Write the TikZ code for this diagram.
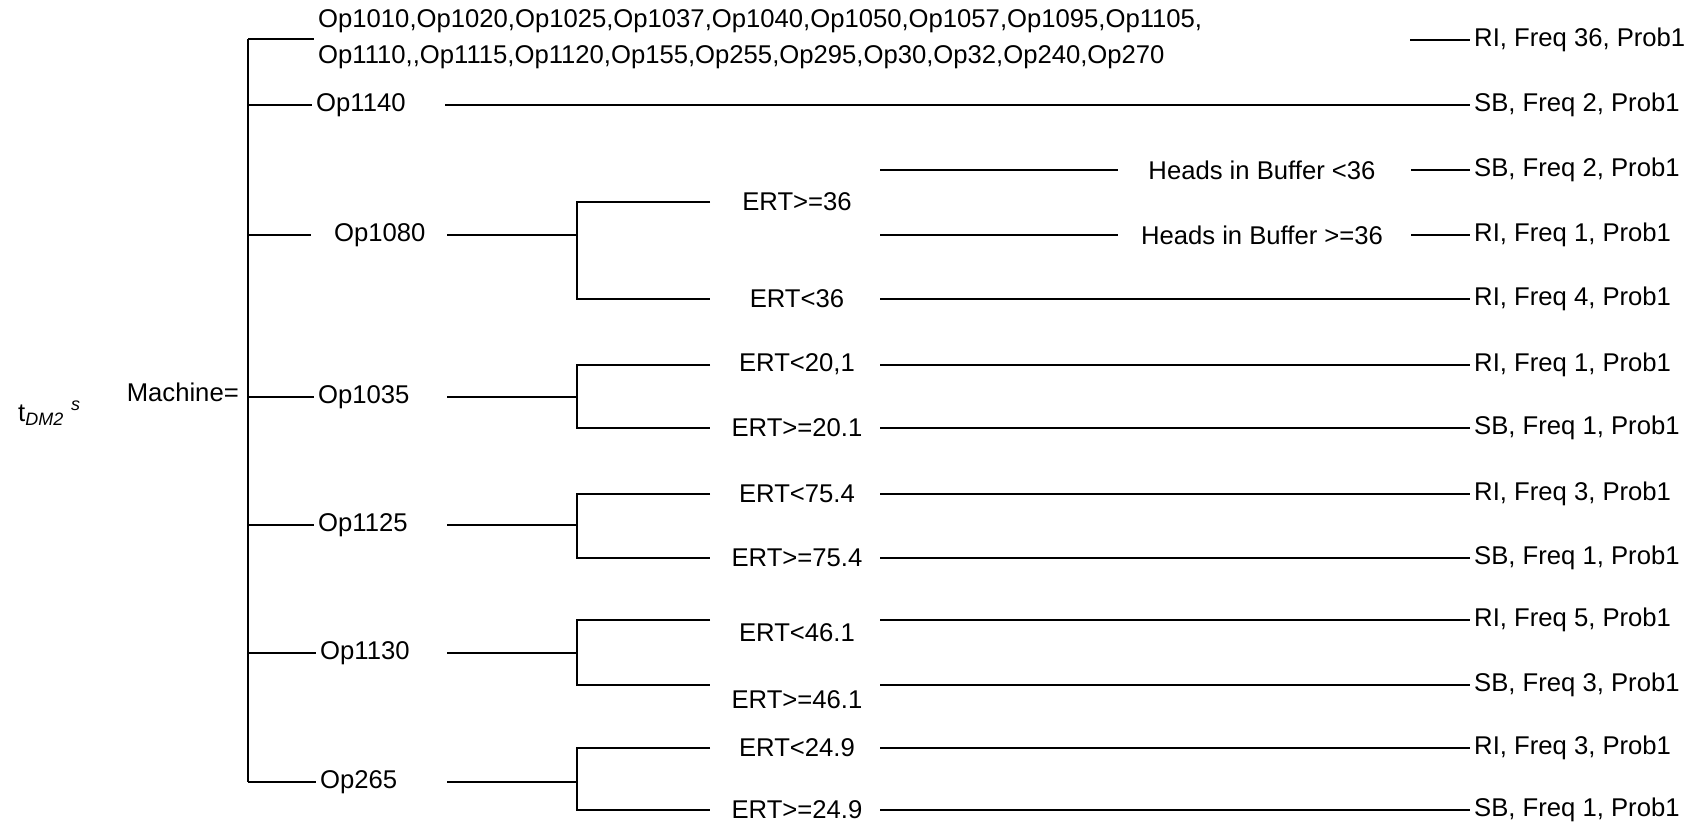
\documentclass[tikz,border=0pt]{standalone}
\usepackage{fontspec}
\setmainfont{Liberation Sans}
\usepackage{tikz}
\usetikzlibrary{positioning,calc}

\tikzset{
    lbl/.style={inner sep=1pt, font=\fontsize{7.3}{9.1}\selectfont},
    wire/.style={line width=0.6pt, black}
}

\begin{document}
\begin{tikzpicture}[every node/.style={lbl}]
    \useasboundingbox (0,0) rectangle (17.02,8.27);

    % Left labels
    \node[anchor=west] (tdm) at (0.14,4.14) {t\textsubscript{\textit{DM2}}\textsuperscript{\,\,\textit{s}}};
    \node[anchor=east] (machine) at (2.43,4.35) {Machine=};

    % Trunk
    \coordinate (jtop) at (2.48,7.88);
    \coordinate (jbot) at (2.48,0.45);
    \draw[wire] (jtop) -- (jbot);

    % Operation nodes
    \node[anchor=west, align=left, font=\fontsize{7.3}{10.4}\selectfont] (oplist) at (3.14,7.88)
        {Op1010,Op1020,Op1025,Op1037,Op1040,Op1050,Op1057,Op1095,Op1105,\\
         Op1110,\kern0pt,Op1115,Op1120,Op155,Op255,Op295,Op30,Op32,Op240,Op270};
    \foreach \nm/\y/\x in {1140/7.22/3.12, 1080/5.92/3.30, 1035/4.30/3.14, 1125/3.02/3.14, 1130/1.74/3.16, 265/0.45/3.16} {
        \node[anchor=west] (op\nm) at (\x,\y) {Op\nm};
        \coordinate (j\nm) at (2.48,\y);
    }

    % Stubs from trunk
    \draw[wire] (jtop) -- (oplist.west);
    \foreach \nm in {1140,1035,1125,1130,265}
        \draw[wire] (j\nm) -- (op\nm.west);
    \coordinate (s1080) at (3.11,5.92);
    \draw[wire] (j1080) -- (s1080);

    % Results
    \foreach \nm/\y/\txt in {0/7.87/{RI, Freq 36, Prob1}, 1140/7.22/{SB, Freq 2, Prob1},
            h1/6.57/{SB, Freq 2, Prob1}, h2/5.92/{RI, Freq 1, Prob1},
            1080b/5.28/{RI, Freq 4, Prob1},
            1035a/4.62/{RI, Freq 1, Prob1}, 1035b/3.99/{SB, Freq 1, Prob1},
            1125a/3.33/{RI, Freq 3, Prob1}, 1125b/2.69/{SB, Freq 1, Prob1},
            1130a/2.07/{RI, Freq 5, Prob1}, 1130b/1.42/{SB, Freq 3, Prob1},
            265a/0.79/{RI, Freq 3, Prob1}, 265b/0.17/{SB, Freq 1, Prob1}} {
        \node[anchor=west] (r\nm) at (14.70,\y) {\txt};
    }

    % Op1140 goes straight through
    \coordinate (o1140) at (4.45,7.22);
    \draw[wire] (o1140) -- (r1140.west);
    \coordinate (g0) at (14.10,7.87);
    \draw[wire] (g0) -- (r0.west);

    % ERT brackets
    \foreach \nm/\yo/\ya/\yb/\la/\lb/\ta/\tb in {
            1080/5.92/6.25/5.28/6.25/5.28/{ERT>=36}/{ERT<36},
            1035/4.30/4.62/3.99/4.63/3.99/{ERT<20,1}/{ERT>=20.1},
            1125/3.02/3.33/2.69/3.33/2.69/{ERT<75.4}/{ERT>=75.4},
            1130/1.74/2.07/1.42/1.94/1.27/{ERT<46.1}/{ERT>=46.1},
            265/0.45/0.79/0.17/0.79/0.17/{ERT<24.9}/{ERT>=24.9}} {
        \coordinate (o\nm) at (4.47,\yo);
        \coordinate (k\nm) at (5.77,\yo);
        \coordinate (ka\nm) at (7.10,\ya);
        \coordinate (kb\nm) at (7.10,\yb);
        \draw[wire] (o\nm) -- (k\nm);
        \draw[wire] (ka\nm) -| (k\nm) |- (kb\nm);
        \node (ea\nm) at (7.97,\la) {\ta};
        \node (eb\nm) at (7.97,\lb) {\tb};
    }

    % Lines to results
    \foreach \nm/\y in {1080b/5.28, 1035a/4.62, 1035b/3.99, 1125a/3.33, 1125b/2.69,
            1130a/2.07, 1130b/1.42, 265a/0.79, 265b/0.17} {
        \coordinate (l\nm) at (8.80,\y);
        \draw[wire] (l\nm) -- (r\nm.west);
    }

    % Heads in Buffer
    \node (hb1) at (12.62,6.57) {Heads in Buffer <36};
    \node (hb2) at (12.62,5.92) {Heads in Buffer >=36};
    \coordinate (h1) at (8.80,6.57);
    \coordinate (h1e) at (11.18,6.57);
    \coordinate (h2) at (8.80,5.92);
    \coordinate (h2e) at (11.18,5.92);
    \draw[wire] (h1) -- (h1e);
    \draw[wire] (h2) -- (h2e);
    \coordinate (g1) at (14.11,6.57);
    \coordinate (g2) at (14.11,5.92);
    \draw[wire] (g1) -- (rh1.west);
    \draw[wire] (g2) -- (rh2.west);
\end{tikzpicture}
\end{document}
